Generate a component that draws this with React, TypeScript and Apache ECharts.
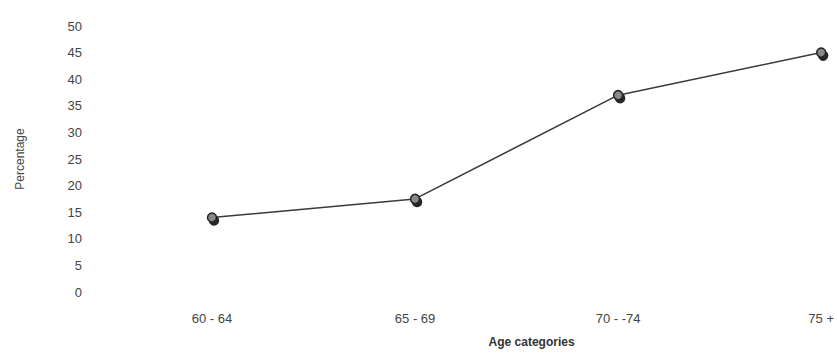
import React, { useEffect, useRef } from "react";
import * as echarts from "echarts";

const categories = ["60 - 64", "65 - 69", "70 - -74", "75 +"];
const percentages = [14, 17.5, 37, 45];
const yTicks = { min: 0, max: 50, interval: 5 };
const xTitle = "Age categories";
const yTitle = "Percentage";

export default function App() {
  const ref = useRef<HTMLDivElement>(null);
  useEffect(() => {
    if (!ref.current) return;
    const chart = echarts.init(ref.current, null, { renderer: "svg" });
    chart.setOption({
      animation: false,
      backgroundColor: "#ffffff",
      textStyle: { fontFamily: "Liberation Sans, Arial, sans-serif" },
      grid: { left: 212, right: 14, top: 26, bottom: 60, containLabel: false },
      xAxis: {
        type: "category",
        data: categories,
        boundaryGap: false,
        axisLine: { show: false },
        axisTick: { show: false },
        splitLine: { show: false },
        axisLabel: { color: "#444", fontSize: 13, margin: 20 },
        name: xTitle,
        nameLocation: "middle",
        nameGap: 44,
        nameTextStyle: { color: "#333", fontSize: 12, fontWeight: "bold", padding: [0, 0, 0, 30] },
      },
      yAxis: {
        type: "value",
        min: yTicks.min,
        max: yTicks.max,
        interval: yTicks.interval,
        axisLine: { show: false },
        axisTick: { show: false },
        splitLine: { show: false },
        axisLabel: { color: "#444", fontSize: 13, margin: 130 },
        name: yTitle,
        nameLocation: "middle",
        nameGap: 186,
        nameRotate: 90,
        nameTextStyle: { color: "#444", fontSize: 12 },
      },
      series: [
        {
          type: "line",
          data: percentages,
          symbol: "circle",
          symbolSize: 9,
          lineStyle: { color: "#3a3a3a", width: 1.5 },
          itemStyle: {
            color: "#888",
            borderColor: "#222",
            borderWidth: 1.5,
            shadowColor: "rgba(0,0,0,0.85)",
            shadowOffsetX: 2,
            shadowOffsetY: 3,
            shadowBlur: 1,
          },
        },
      ],
    });
    return () => chart.dispose();
  }, []);
  return <div ref={ref} style={{ width: 837, height: 353, position: "absolute", left: 0, top: 0 }} />;
}
